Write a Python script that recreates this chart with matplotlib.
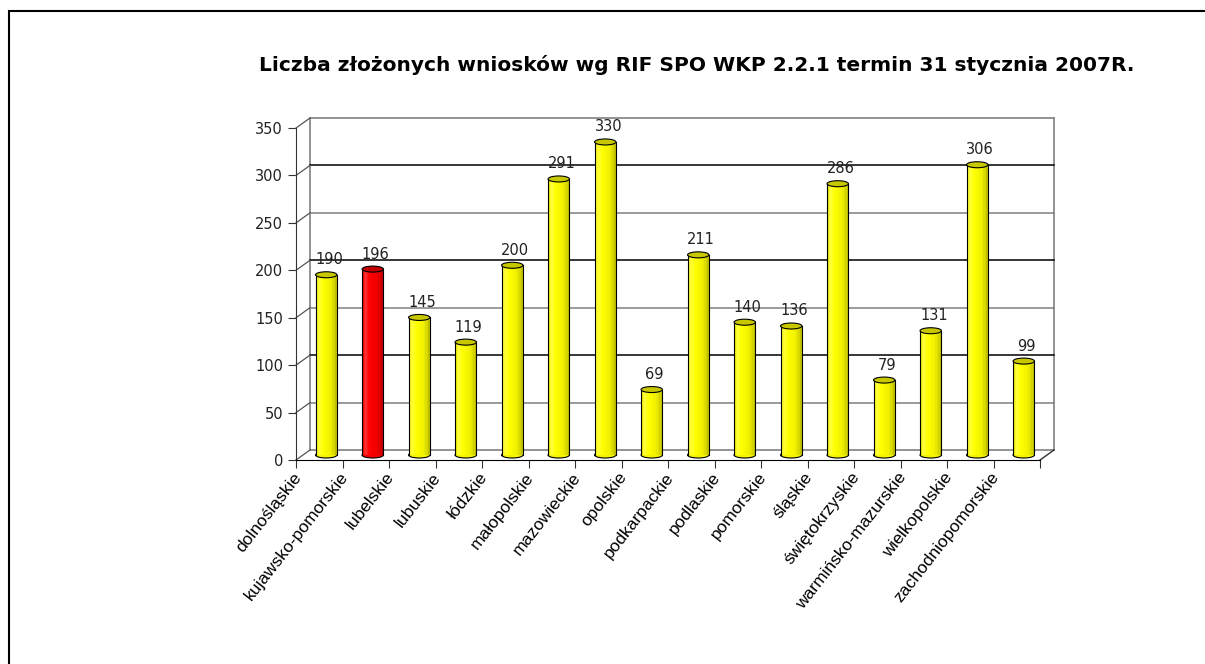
import matplotlib
matplotlib.use('Agg')
import matplotlib.pyplot as plt
import matplotlib.transforms as mtransforms
from matplotlib.patches import Ellipse, Rectangle
from matplotlib.colors import LinearSegmentedColormap
import numpy as np

plt.rcParams['font.family'] = ['Liberation Sans', 'DejaVu Sans']

regions = ['dolnośląskie', 'kujawsko-pomorskie', 'lubelskie', 'lubuskie', 'łódzkie',
           'małopolskie', 'mazowieckie', 'opolskie', 'podkarpackie', 'podlaskie',
           'pomorskie', 'śląskie', 'świętokrzyskie', 'warmińsko-mazurskie',
           'wielkopolskie', 'zachodniopomorskie']
counts = [190, 196, 145, 119, 200, 291, 330, 69, 211, 140, 136, 286, 79, 131, 306, 99]
highlight = 'kujawsko-pomorskie'
yticks = [0, 50, 100, 150, 200, 250, 300, 350]
title = 'Liczba złożonych wniosków wg RIF SPO WKP 2.2.1 termin 31 stycznia 2007R.'

W, H = 1205, 664
fig = plt.figure(figsize=(W / 100, H / 100), dpi=100)
fig.patch.set_facecolor('white')

# front plane of the pseudo-3d plot, in pixels
px_l, px_r, px_b, px_t = 296, 1040, 460, 128
ax = fig.add_axes([px_l / W, (H - px_b) / H, (px_r - px_l) / W, (px_b - px_t) / H])
n = len(regions)
ymax = 350
ax.set_xlim(0, n)
ax.set_ylim(0, ymax)
ax.set_facecolor('none')

# depth offsets converted to data units
ux = n / (px_r - px_l)
uy = ymax / (px_b - px_t)
bdx, bdy = 14 * ux, 10 * uy   # back wall
mdx, mdy = 7 * ux, 5 * uy     # bars sit half way

grey = '#808080'
num_font = ['DejaVu Sans']
# back wall frame and floor
ax.plot([bdx, bdx], [bdy, ymax + bdy], color=grey, lw=1.2, clip_on=False)
ax.plot([n + bdx, n + bdx], [bdy, ymax + bdy], color=grey, lw=1.2, clip_on=False)
ax.plot([bdx, n + bdx], [ymax + bdy, ymax + bdy], color=grey, lw=1.2, clip_on=False)
ax.plot([bdx, n + bdx], [bdy, bdy], color=grey, lw=1.2, clip_on=False)
ax.plot([n, n + bdx], [0, bdy], color='#333333', lw=1, clip_on=False)
for t in yticks:
    if 0 < t < ymax:
        c = 'black' if t % 100 == 0 else grey
        ax.plot([bdx, n + bdx], [t + bdy, t + bdy], color=c, lw=1.1, clip_on=False)
    ax.plot([0, bdx], [t, t + bdy], color='#555555', lw=0.9, clip_on=False)

# cylinders
yellow = LinearSegmentedColormap.from_list('y', [(0, '#E6E600'), (0.15, '#FFFF40'), (0.35, '#FFFF00'),
                                                (0.7, '#F0F000'), (0.9, '#D2D200'), (1, '#B8B800')])
red = LinearSegmentedColormap.from_list('r', [(0, '#E60000'), (0.15, '#FF3030'), (0.35, '#FF0000'),
                                             (0.7, '#F00000'), (0.9, '#D20000'), (1, '#B80000')])
bw = 0.46
eh = 6 * uy
strips = 14
for i, (name, v) in enumerate(zip(regions, counts)):
    cmap = red if name == highlight else yellow
    top_c = '#C00000' if name == highlight else '#C8C800'
    xc = i + 0.5 + mdx
    xl = xc - bw / 2
    ax.add_patch(Ellipse((xc, mdy), bw, eh, facecolor=cmap(0.6), edgecolor='black', lw=0.8, zorder=3))
    sw = bw / strips
    ax.bar([xl + k * sw for k in range(strips)], [v] * strips, sw, bottom=mdy, align='edge',
           color=[cmap((k + 0.5) / strips) for k in range(strips)], lw=0, zorder=4)
    ax.plot([xl, xl], [mdy, v + mdy], color='black', lw=0.8, zorder=5)
    ax.plot([xl + bw, xl + bw], [mdy, v + mdy], color='black', lw=0.8, zorder=5)
    ax.add_patch(Ellipse((xc, v + mdy), bw, eh, facecolor=top_c, edgecolor='black', lw=0.8, zorder=6))
    ax.annotate(str(v), (i + 0.5, v), xytext=(10 * 0.72, 20 * 0.72), textcoords='offset points',
                ha='center', va='center', fontsize=10.5, family=num_font, color='#222222', zorder=7)

# axes
for s in ['top', 'right']:
    ax.spines[s].set_visible(False)
ax.spines['left'].set_color('#333333')
ax.spines['bottom'].set_color('black')
ax.set_yticks(yticks)
ax.tick_params(axis='y', length=5.8, color='#333333', labelsize=10.5, pad=3.5, labelcolor='#222222')
for lab in ax.get_yticklabels():
    lab.set_family(num_font)
ax.set_xticks(np.arange(n + 1))
ax.set_xticklabels([])
ax.tick_params(axis='x', which='major', length=5.8, color='#333333')
ax.set_xticks(np.arange(n) + 0.5, minor=True)
ax.set_xticklabels(regions, minor=True, rotation=52, ha='right', va='top', fontsize=12.5)
ax.tick_params(axis='x', which='minor', length=0, pad=7)
shift = mtransforms.ScaledTranslation(-15 / 100, 0, fig.dpi_scale_trans)
for lab in ax.get_xticklabels(minor=True):
    lab.set_transform(lab.get_transform() + shift)

fig.text(697 / W, 1 - 71 / H, title, ha='center', va='baseline', fontsize=14.5,
         fontweight='bold', family=['DejaVu Sans'])

fig.add_artist(Rectangle((9 / W, -0.1), 1.2, (H - 11) / H + 0.1, transform=fig.transFigure,
                         fill=False, ec='black', lw=1.5))

fig.savefig('out.png', dpi=100)
